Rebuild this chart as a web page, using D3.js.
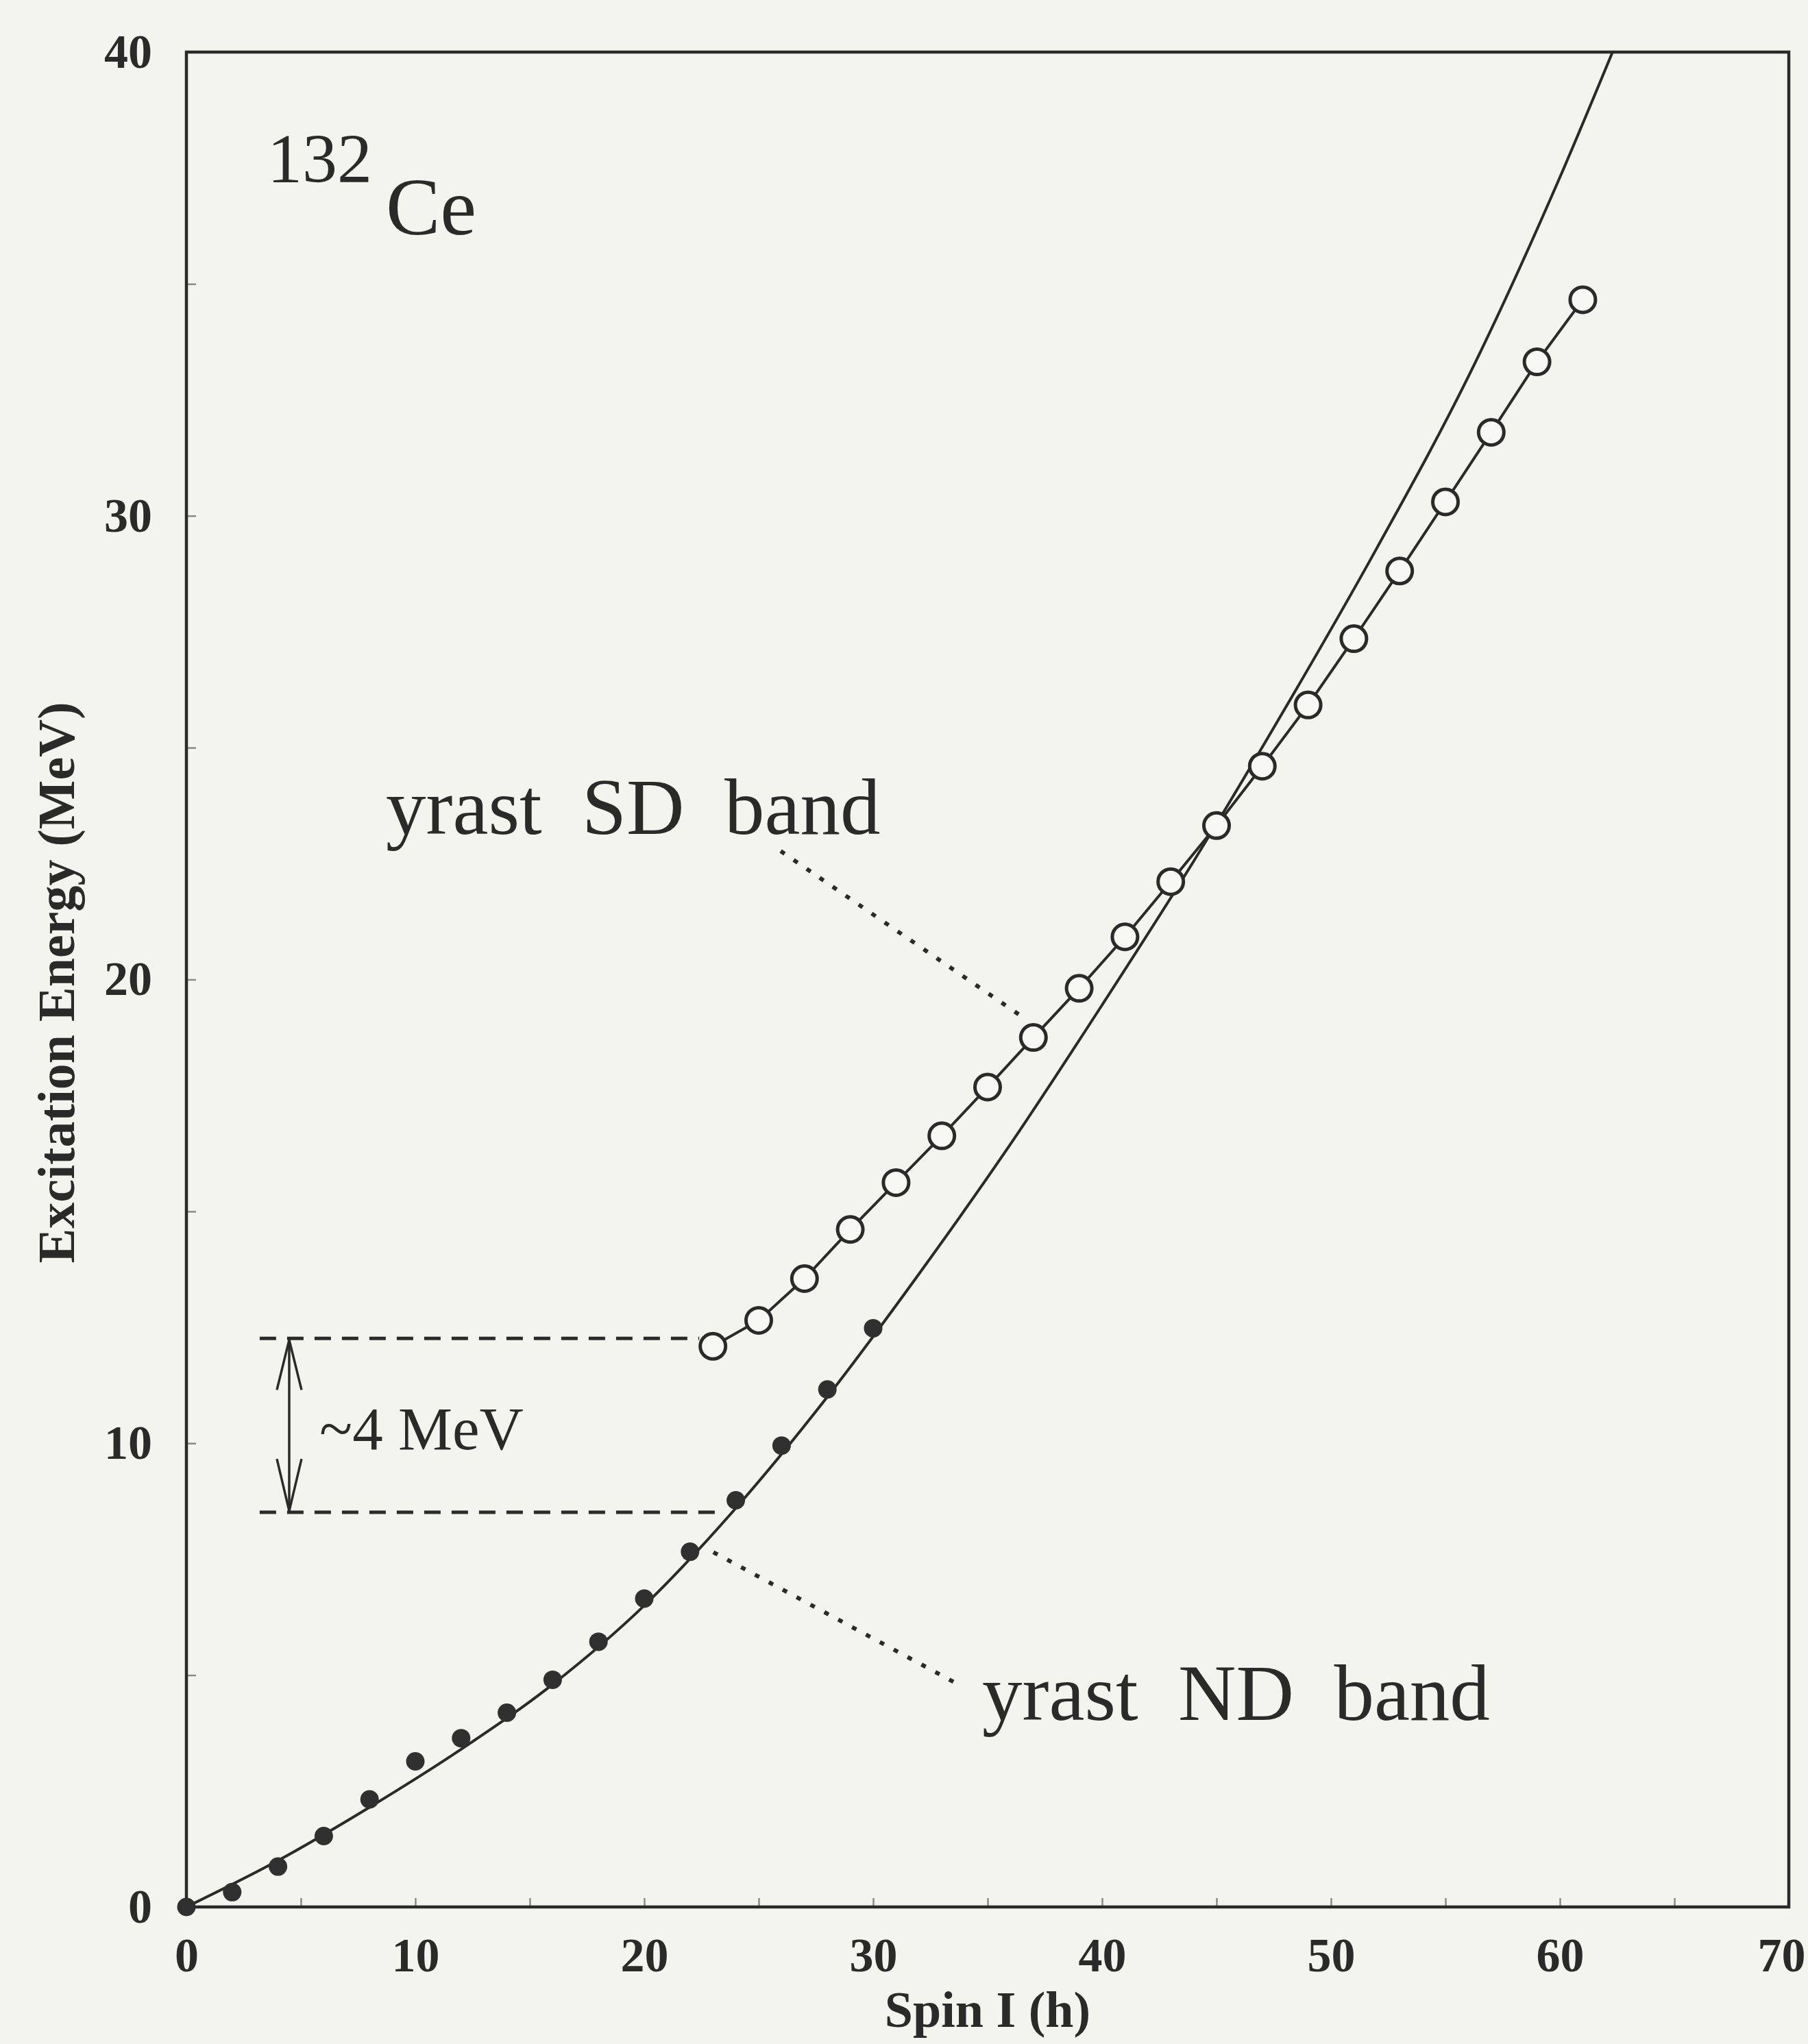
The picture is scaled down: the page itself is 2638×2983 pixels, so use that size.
<!DOCTYPE html>
<html lang="en">
<head>
<meta charset="UTF-8">
<title>132Ce yrast bands</title>
<script src="https://cdn.jsdelivr.net/npm/d3@7"></script>
<style>
  html, body { margin: 0; padding: 0; background: #f4f4ef; }
  svg { display: block; }
</style>
</head>
<body>
<script type="text/javascript">
    // yrast ND band (filled dots)
    var ndSpin = [0, 2, 4, 6, 8, 10, 12, 14, 16, 18, 20, 22, 24, 26, 28, 30];
    var ndEnergy = [0, 0.32, 0.87, 1.53, 2.32, 3.14, 3.64, 4.19, 4.90, 5.72, 6.65, 7.66, 8.77, 9.95, 11.16, 12.48];

    // yrast SD band (open circles)
    var sdSpin = [23, 25, 27, 29, 31, 33, 35, 37, 39, 41, 43, 45, 47, 49, 51, 53, 55, 57, 59, 61];
    var sdEnergy = [12.09, 12.65, 13.55, 14.61, 15.62, 16.63, 17.68, 18.75, 19.81, 20.92,
                    22.11, 23.32, 24.60, 25.92, 27.35, 28.81, 30.30, 31.80, 33.32, 34.66];

    // smooth solid curve
    var curveSpin = [0, 4, 8, 12, 16, 20, 24, 28, 32, 36, 40, 44, 48, 52, 56, 60, 62.3];
    var curveEnergy = [0, 1.0, 2.15, 3.4, 4.8, 6.5, 8.6, 11.0, 13.65, 16.45, 19.45, 22.55, 25.85, 29.3, 33.0, 37.3, 40];

    var xTicks = [0, 10, 20, 30, 40, 50, 60, 70];
    var yTicks = [0, 10, 20, 30, 40];
    var xMinor = d3.range(5, 70, 5);
    var yMinor = d3.range(5, 40, 5);

    // the ~4 MeV gap markers (spin, energy)
    var gapTop = [[3.2, 12.26], [22.4, 12.26]];
    var gapBottom = [[3.2, 8.51], [23.25, 8.51]];
    var gapArrowSpin = 4.49;
    var sdLeader = [[25.96, 22.77], [36.53, 19.19]];
    var ndLeader = [[23.02, 7.65], [33.83, 4.77]];

    var width = 2638;
    var height = 2983;
    var margin = {top: 76, right: 28, bottom: 200, left: 272};
    var ink = '#2a2a2a';
    var serif = '"Liberation Serif", "Times New Roman", Times, serif';

    var svg = d3.select('body').append('svg')
            .attr('width', width)
            .attr('height', height)
            .style('background', '#f4f4ef');

    var x = d3.scaleLinear().domain([0, 70]).range([margin.left, width - margin.right]);
    var y = d3.scaleLinear().domain([0, 40]).range([height - margin.bottom, margin.top]);

    svg.append('clipPath').attr('id', 'plotClip')
        .append('rect')
        .attr('x', x(0)).attr('y', y(40))
        .attr('width', x(70) - x(0)).attr('height', y(0) - y(40));

    // faint minor ticks pointing inwards
    var minorX = svg.append('g')
            .attr('transform', 'translate(0,' + y(0) + ')')
            .call(d3.axisBottom(x).tickValues(xMinor).tickSize(-13).tickFormat(''));
    var minorY = svg.append('g')
            .attr('transform', 'translate(' + x(0) + ',0)')
            .call(d3.axisLeft(y).tickValues(yMinor).tickSize(-14).tickFormat(''));
    [minorX, minorY].forEach(function (g) {
        g.select('.domain').remove();
        g.selectAll('line').attr('stroke', '#8a8a86').attr('stroke-width', 2.5);
    });

    // tick labels
    var xAxis = svg.append('g')
            .attr('transform', 'translate(0,' + y(0) + ')')
            .call(d3.axisBottom(x).tickValues(xTicks).tickSize(0).tickPadding(44).tickFormat(d3.format('d')));
    var yAxis = svg.append('g')
            .attr('transform', 'translate(' + x(0) + ',0)')
            .call(d3.axisLeft(y).tickValues(yTicks).tickSize(0).tickPadding(50).tickFormat(d3.format('d')));
    [xAxis, yAxis].forEach(function (g) {
        g.select('.domain').remove();
        g.attr('font-family', serif).attr('font-size', 70).attr('font-weight', 'bold');
        g.selectAll('text').attr('fill', ink);
    });
    // keep the last label inside the page
    xAxis.selectAll('text').filter(function (d) { return d === 70; }).attr('dx', -11);

    // frame
    svg.append('rect')
        .attr('x', x(0)).attr('y', y(40))
        .attr('width', x(70) - x(0)).attr('height', y(0) - y(40))
        .attr('fill', 'none')
        .attr('stroke', ink)
        .attr('stroke-width', 4.5);

    var line = d3.line()
            .x(function (d) { return x(d[0]); })
            .y(function (d) { return y(d[1]); });

    // gap dashes
    [gapTop, gapBottom].forEach(function (pts) {
        svg.append('path')
            .attr('d', line(pts))
            .attr('fill', 'none')
            .attr('stroke', ink)
            .attr('stroke-width', 5)
            .attr('stroke-dasharray', '24,16');
    });

    // double arrow
    var ax = x(gapArrowSpin);
    var aTop = y(gapTop[0][1]);
    var aBot = y(gapBottom[0][1]);
    var arrow = svg.append('g')
            .attr('fill', 'none')
            .attr('stroke', ink)
            .attr('stroke-width', 3.5);
    arrow.append('line').attr('x1', ax).attr('x2', ax).attr('y1', aTop + 2).attr('y2', aBot - 2);
    arrow.append('polyline')
        .attr('points', [[ax - 18, aTop + 75], [ax, aTop + 2], [ax + 18, aTop + 75]].join(' '));
    arrow.append('polyline')
        .attr('points', [[ax - 18, aBot - 78], [ax, aBot - 2], [ax + 18, aBot - 78]].join(' '));

    // leader lines
    [sdLeader, ndLeader].forEach(function (pts) {
        svg.append('path')
            .attr('d', line(pts))
            .attr('fill', 'none')
            .attr('stroke', ink)
            .attr('stroke-width', 6)
            .attr('stroke-dasharray', '7,16');
    });

    // model curve
    var curvePts = curveSpin.map(function (s, i) { return [s, curveEnergy[i]]; });
    svg.append('path')
        .attr('clip-path', 'url(#plotClip)')
        .attr('d', line.curve(d3.curveMonotoneX)(curvePts))
        .attr('fill', 'none')
        .attr('stroke', ink)
        .attr('stroke-width', 4);
    line.curve(d3.curveLinear);

    // SD band
    var sdPts = sdSpin.map(function (s, i) { return [s, sdEnergy[i]]; });
    svg.append('path')
        .attr('d', line(sdPts))
        .attr('fill', 'none')
        .attr('stroke', ink)
        .attr('stroke-width', 4);
    svg.selectAll('.sd')
        .data(sdPts)
        .enter()
        .append('circle')
        .attr('class', 'sd')
        .attr('cx', function (d) { return x(d[0]); })
        .attr('cy', function (d) { return y(d[1]); })
        .attr('r', 18.5)
        .attr('fill', '#f7f7f3')
        .attr('stroke', ink)
        .attr('stroke-width', 5);

    // ND band
    var ndPts = ndSpin.map(function (s, i) { return [s, ndEnergy[i]]; });
    svg.selectAll('.nd')
        .data(ndPts)
        .enter()
        .append('circle')
        .attr('class', 'nd')
        .attr('cx', function (d) { return x(d[0]); })
        .attr('cy', function (d) { return y(d[1]); })
        .attr('r', 13.5)
        .attr('fill', '#303030');

    // texts
    var txt = svg.append('g').attr('font-family', serif).attr('fill', ink);
    txt.append('text').attr('x', 390).attr('y', 266).attr('font-size', 102).text('132');
    txt.append('text').attr('x', 563).attr('y', 342).attr('font-size', 119).text('Ce');
    txt.append('text').attr('x', 563).attr('y', 1217).attr('font-size', 117)
        .text('yrast\u00a0\u00a0SD\u00a0\u00a0band');
    txt.append('text').attr('x', 1433).attr('y', 2510).attr('font-size', 117)
        .text('yrast\u00a0\u00a0ND\u00a0\u00a0band');
    txt.append('text').attr('x', 466).attr('y', 2115).attr('font-size', 89).text('~4 MeV');

    txt.append('text')
        .attr('x', (x(0) + x(70)) / 2)
        .attr('y', 2958)
        .attr('text-anchor', 'middle')
        .attr('font-size', 74)
        .attr('font-weight', 'bold')
        .text('Spin I (h)');
    txt.append('text')
        .attr('transform', 'translate(108,1434) rotate(-90)')
        .attr('text-anchor', 'middle')
        .attr('font-size', 76)
        .attr('font-weight', 'bold')
        .text('Excitation Energy (MeV)');
</script>
</body>
</html>
